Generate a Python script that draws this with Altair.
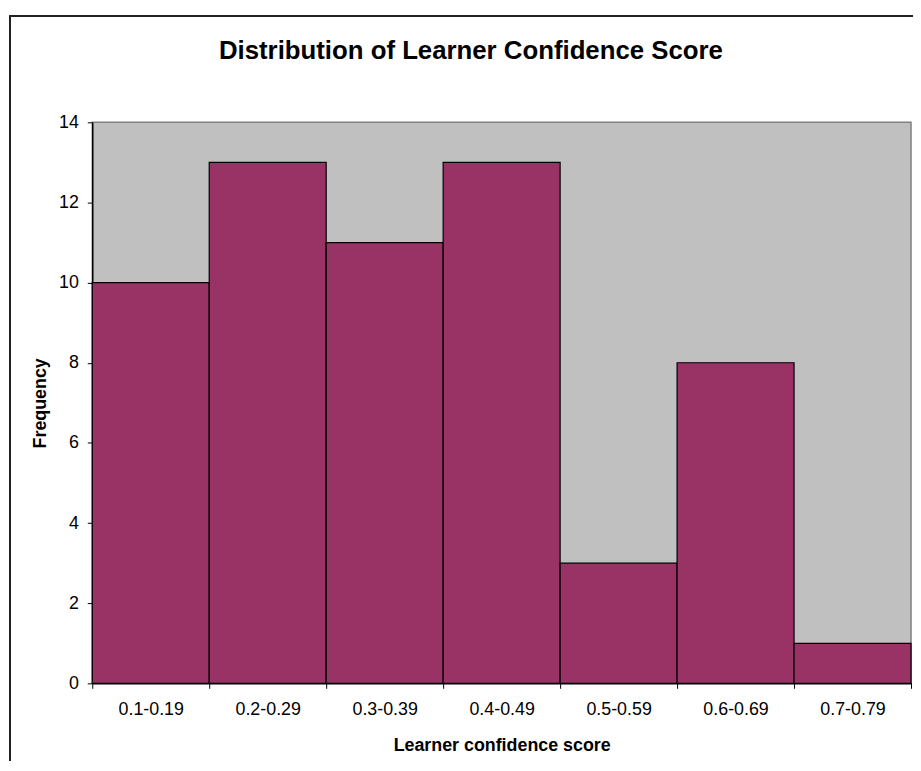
import altair as alt
import pandas as pd

categories = ["0.1-0.19", "0.2-0.29", "0.3-0.39", "0.4-0.49", "0.5-0.59", "0.6-0.69", "0.7-0.79"]
frequency = [10, 13, 11, 13, 3, 8, 1]
y_ticks = [0, 2, 4, 6, 8, 10, 12, 14]

df = pd.DataFrame({"category": categories, "frequency": frequency})

FONT = "Liberation Sans"

frame = alt.Chart(df).mark_rect(
    filled=False, stroke="#222222", strokeWidth=1.5
).encode(
    x=alt.value(-83), x2=alt.value(1200),
    y=alt.value(-107), y2=alt.value(1000),
)

bars = alt.Chart(df).mark_bar(
    color="#993366", stroke="#000000", strokeWidth=1.2, opacity=1
).encode(
    x=alt.X(
        "category:N",
        sort=categories,
        scale=alt.Scale(paddingInner=0, paddingOuter=0),
        axis=alt.Axis(
            title="Learner confidence score",
            labelAngle=0,
            tickBand="extent",
            tickSize=5,
            labelPadding=12,
            titlePadding=19,
        ),
    ),
    y=alt.Y(
        "frequency:Q",
        scale=alt.Scale(domain=[0, 14], nice=False),
        axis=alt.Axis(
            title="Frequency",
            values=y_ticks,
            tickSize=5,
            labelPadding=9,
            titlePadding=9,
            grid=False,
        ),
    ),
)

chart = alt.layer(frame, bars).properties(
    width=826,
    height=566,
    title=alt.TitleParams(
        "Distribution of Learner Confidence Score",
        fontSize=26,
        fontWeight="bold",
        font=FONT,
        color="#000000",
        anchor="middle",
        frame="group",
        dx=-31,
        offset=-70,
        baseline="alphabetic",
    ),
    autosize=alt.AutoSizeParams(type="none"),
    padding={"left": 85, "top": 112, "right": 2, "bottom": 75},
    background="#FFFFFF",
).configure_view(
    fill="#C0C0C0", stroke="#808080", strokeWidth=1.5
).configure_axis(
    labelFont=FONT,
    labelFontSize=18,
    labelColor="#000000",
    titleFont=FONT,
    titleFontSize=18,
    titleFontWeight="bold",
    titleColor="#000000",
    domainColor="#000000",
    domainWidth=1.5,
    tickColor="#000000",
    tickWidth=1,
    grid=False,
)

chart.save("out.html", embed_options={"renderer": "svg", "actions": False})
